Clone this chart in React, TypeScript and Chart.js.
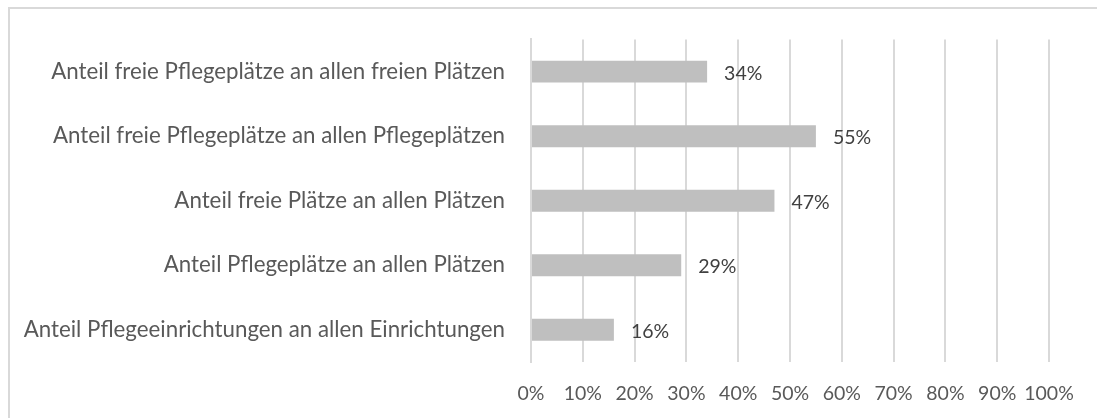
import React, { useEffect, useRef } from "react";
import { Chart, registerables } from "chart.js";

Chart.register(...registerables);

const categories = [
  "Anteil freie Pflegeplätze an allen freien Plätzen",
  "Anteil freie Pflegeplätze an allen Pflegeplätzen",
  "Anteil freie Plätze an allen Plätzen",
  "Anteil Pflegeplätze an allen Plätzen",
  "Anteil Pflegeeinrichtungen an allen Einrichtungen",
];
const values = [34, 55, 47, 29, 16];
const tickValues = [0, 10, 20, 30, 40, 50, 60, 70, 80, 90, 100];

const FONT = "Lato, 'Open Sans', sans-serif";

const dataLabels = {
  id: "dataLabels",
  afterDatasetsDraw(chart: any) {
    const ctx = chart.ctx;
    const meta = chart.getDatasetMeta(0);
    ctx.save();
    ctx.font = `19.5px ${FONT}`;
    ctx.fillStyle = "#404040";
    ctx.textAlign = "left";
    ctx.textBaseline = "middle";
    meta.data.forEach((el: any, i: number) => {
      ctx.fillText(`${values[i]}%`, el.x + 17, el.y + 2);
    });
    ctx.restore();
  },
};

export default function App() {
  const ref = useRef<HTMLCanvasElement | null>(null);
  useEffect(() => {
    if (!ref.current) return;
    const chart = new Chart(ref.current, {
      type: "bar",
      data: {
        labels: categories,
        datasets: [
          {
            data: values,
            backgroundColor: "#BFBFBF",
            borderWidth: 0,
            barPercentage: 0.68,
            categoryPercentage: 0.5,
          },
        ],
      },
      options: {
        indexAxis: "y",
        animation: false,
        responsive: false,
        maintainAspectRatio: false,
        layout: { padding: { left: 0, top: 37, right: 48, bottom: 10 } },
        plugins: { legend: { display: false }, tooltip: { enabled: false } },
        scales: {
          x: {
            min: 0,
            max: 100,
            afterBuildTicks(axis: any) {
              axis.ticks = tickValues.map((v) => ({ value: v }));
            },
            afterFit(axis: any) {
              axis.height = 46;
            },
            ticks: {
              callback: (v: any) => `${v}%`,
              color: "#595959",
              font: { family: FONT, size: 19.5 },
              padding: 20,
              maxRotation: 0,
              autoSkip: false,
            },
            grid: { color: "#D9D9D9", lineWidth: 2, drawTicks: false },
            border: { display: false },
          },
          y: {
            afterFit(axis: any) {
              axis.width = 531;
            },
            ticks: {
              color: "#595959",
              font: { family: FONT, size: 22.3 },
              padding: 26,
            },
            grid: { display: false, drawTicks: false },
            border: { display: true, color: "#D9D9D9", width: 2 },
          },
        },
      },
      plugins: [dataLabels],
    });
    return () => chart.destroy();
  }, []);
  return (
    <div style={{ position: "fixed", left: 0, top: 0, width: 1097, height: 418, background: "#fff", overflow: "hidden" }}>
      <div
        style={{
          position: "absolute",
          left: 8,
          top: 7,
          width: 1200,
          height: 500,
          borderTop: "2px solid #D9D9D9",
          borderLeft: "2px solid #D9D9D9",
        }}
      />
      <canvas ref={ref} width={1097} height={418} style={{ position: "absolute", left: 0, top: 0 }} />
    </div>
  );
}
